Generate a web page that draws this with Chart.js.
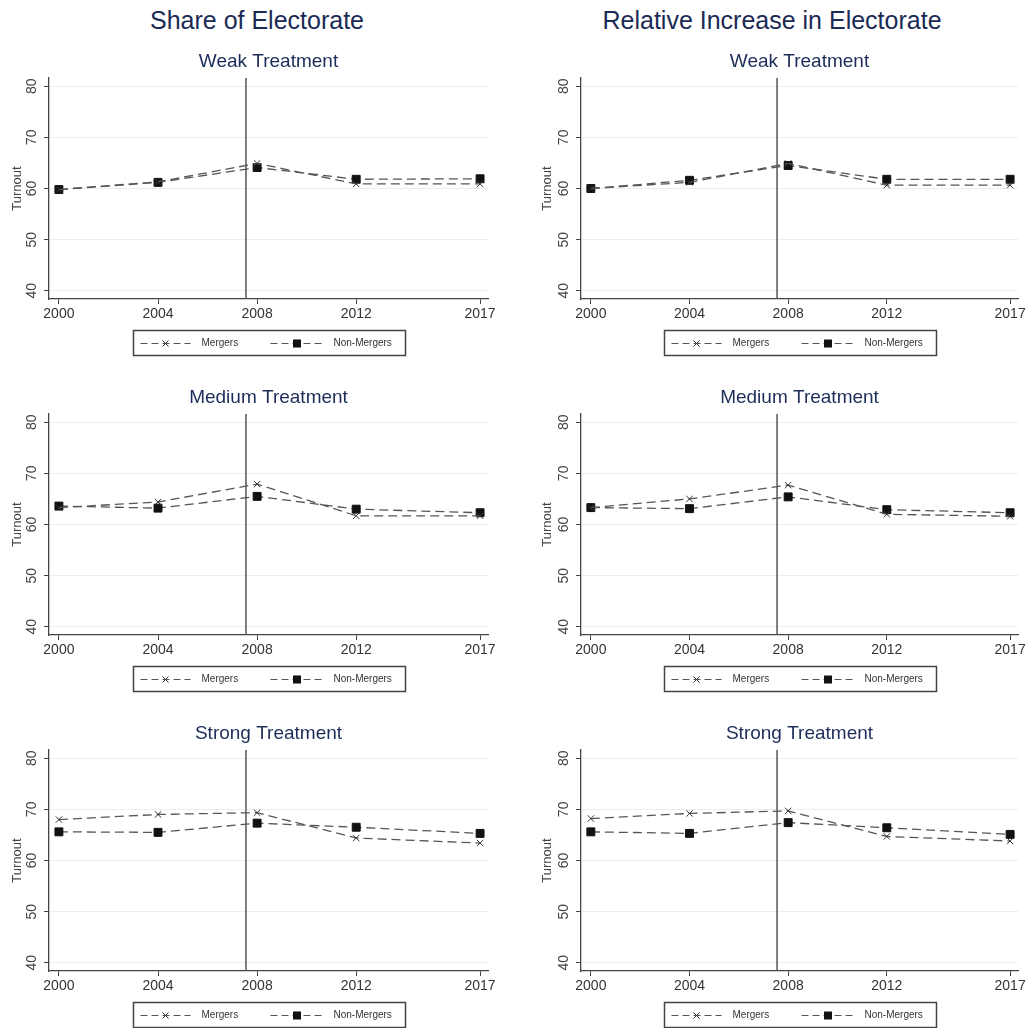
<!DOCTYPE html>
<html>
<head>
<meta charset="utf-8">
<script src="https://cdn.jsdelivr.net/npm/chart.js@4"></script>
<style>
  body { margin: 0; background: #fff; width: 1029px; height: 1028px; overflow: hidden; position: relative;
         font-family: "Liberation Sans", Arial, sans-serif; }
  .hdr { position: absolute; top: 5px; font-size: 25px; line-height: 30px; color: #1b2a55; text-align: center; }
  canvas { position: absolute; }
</style>
</head>
<body>
<div class="hdr" id="h0" style="left:0;width:514px"></div>
<div class="hdr" id="h1" style="left:514px;width:516px"></div>
<script>
const years = [2000, 2004, 2008, 2012, 2017];
const xTicks = [2000, 2004, 2008, 2012, 2017];
const yTicks = [40, 50, 60, 70, 80];
const treatYear = 2007.55;
const seriesNames = ["Mergers", "Non-Mergers"];
const panelTitles = ["Weak Treatment", "Medium Treatment", "Strong Treatment"];
const columnTitles = ["Share of Electorate", "Relative Increase in Electorate"];

// share of electorate
const shareWeakMergers = [59.8, 61.3, 64.9, 60.9, 60.9];
const shareWeakNon = [59.8, 61.2, 64.1, 61.8, 61.9];
const shareMediumMergers = [63.3, 64.4, 67.9, 61.7, 61.7];
const shareMediumNon = [63.6, 63.2, 65.5, 63.0, 62.3];
const shareStrongMergers = [68.0, 69.0, 69.35, 64.4, 63.4];
const shareStrongNon = [65.6, 65.5, 67.3, 66.5, 65.3];

// relative increase in electorate
const relWeakMergers = [60.0, 61.2, 64.9, 60.65, 60.65];
const relWeakNon = [60.0, 61.6, 64.5, 61.8, 61.8];
const relMediumMergers = [63.3, 65.0, 67.7, 62.0, 61.6];
const relMediumNon = [63.3, 63.1, 65.4, 62.9, 62.3];
const relStrongMergers = [68.2, 69.2, 69.7, 64.7, 63.8];
const relStrongNon = [65.6, 65.3, 67.4, 66.4, 65.1];

const yMin = 38.4, yMax = 81.6;

document.getElementById("h0").textContent = columnTitles[0];
document.getElementById("h1").textContent = columnTitles[1];

const panels = [
  { col: 0, row: 0, m: shareWeakMergers, n: shareWeakNon },
  { col: 0, row: 1, m: shareMediumMergers, n: shareMediumNon },
  { col: 0, row: 2, m: shareStrongMergers, n: shareStrongNon },
  { col: 1, row: 0, m: relWeakMergers, n: relWeakNon },
  { col: 1, row: 1, m: relMediumMergers, n: relMediumNon },
  { col: 1, row: 2, m: relStrongMergers, n: relStrongNon },
];

const colLeft = [0, 514];
const colWidth = [514, 515];
const rowTop = [45, 381, 717];
const axisLeft = [49, 67];
const padRight = [26, 11];
const yTitlePad = [10, 26];
const FONT = '"Liberation Sans", Arial, sans-serif';

// panel title, rotated y tick labels and the boxed legend
const decor = {
  id: "decor",
  afterDraw(chart, args, opts) {
    const { ctx, chartArea: a } = chart;
    const y = chart.scales.y;
    ctx.save();
    ctx.textAlign = "center";
    ctx.textBaseline = "middle";
    ctx.fillStyle = "#1c2d5a";
    ctx.font = "19px " + FONT;
    ctx.fillText(opts.title, (a.left + a.right) / 2, a.top - 16);

    ctx.fillStyle = "#444";
    ctx.font = "14px " + FONT;
    yTicks.forEach(v => {
      ctx.save();
      ctx.translate(a.left - 17, y.getPixelForValue(v));
      ctx.rotate(-Math.PI / 2);
      ctx.fillText(String(v), 0, 0);
      ctx.restore();
    });

    const bw = 272, bh = 25;
    const bx = Math.round((a.left + a.right) / 2 - bw / 2) + 0.5;
    const by = Math.round(a.bottom + 31) + 0.5;
    ctx.strokeStyle = "#444";
    ctx.lineWidth = 1.5;
    ctx.strokeRect(bx, by, bw, bh);

    const offs = [[7, 57, 68], [137, 190, 200]];
    const cy = by + 13;
    chart.data.datasets.filter(d => d.inLegend).forEach((d, i) => {
      const [s0, s1, tx] = offs[i];
      ctx.strokeStyle = "#555";
      ctx.lineWidth = 1.2;
      ctx.setLineDash([7, 4]);
      ctx.beginPath();
      ctx.moveTo(bx + s0, cy);
      ctx.lineTo(bx + s1, cy);
      ctx.stroke();
      ctx.setLineDash([]);
      const mx = bx + (s0 + s1) / 2;
      if (d.pointStyle === "rect") {
        ctx.fillStyle = "#111";
        ctx.fillRect(mx - 4, cy - 4, 8, 8);
      } else {
        ctx.strokeStyle = "#333";
        ctx.lineWidth = 1;
        ctx.beginPath();
        ctx.moveTo(mx - 3, cy - 3); ctx.lineTo(mx + 3, cy + 3);
        ctx.moveTo(mx + 3, cy - 3); ctx.lineTo(mx - 3, cy + 3);
        ctx.stroke();
      }
      ctx.fillStyle = "#333";
      ctx.font = "10px " + FONT;
      ctx.textAlign = "left";
      ctx.fillText(d.label, bx + tx, cy);
    });
    ctx.restore();
  }
};

panels.forEach(p => {
  const cv = document.createElement("canvas");
  cv.width = colWidth[p.col];
  cv.height = 312;
  cv.style.left = colLeft[p.col] + "px";
  cv.style.top = rowTop[p.row] + "px";
  document.body.appendChild(cv);

  new Chart(cv.getContext("2d"), {
    type: "line",
    data: {
      datasets: [
        {
          label: seriesNames[0],
          inLegend: true,
          data: years.map((yr, i) => ({ x: yr, y: p.m[i] })),
          borderColor: "#555",
          borderWidth: 1.3,
          borderDash: [9, 5],
          pointStyle: "crossRot",
          pointRadius: 4.5,
          pointBorderColor: "#333",
          pointBorderWidth: 1,
        },
        {
          label: seriesNames[1],
          inLegend: true,
          data: years.map((yr, i) => ({ x: yr, y: p.n[i] })),
          borderColor: "#555",
          borderWidth: 1.3,
          borderDash: [9, 5],
          pointStyle: "rect",
          pointRadius: 5.6,
          pointBackgroundColor: "#111",
          pointBorderColor: "#111",
          pointBorderWidth: 1,
        },
        {
          label: "",
          data: [{ x: treatYear, y: yMin }, { x: treatYear, y: yMax }],
          borderColor: "#555",
          borderWidth: 1.5,
          pointRadius: 0,
        },
      ],
    },
    options: {
      responsive: false,
      animation: false,
      layout: { padding: { left: 0, right: padRight[p.col], top: 33, bottom: 0 } },
      plugins: {
        legend: { display: false },
        tooltip: { enabled: false },
        decor: { title: panelTitles[p.row] },
      },
      scales: {
        x: {
          type: "linear",
          min: 1999.6,
          max: 2017.32,
          afterBuildTicks: s => { s.ticks = xTicks.map(v => ({ value: v })); },
          afterFit: s => { s.height = 58; },
          ticks: {
            callback: v => String(v),
            color: "#333",
            font: { family: FONT, size: 14 },
            padding: 2,
            maxRotation: 0,
          },
          grid: { drawOnChartArea: false, drawTicks: true, tickLength: 5, tickColor: "#444" },
          border: { color: "#444", width: 1.3 },
        },
        y: {
          min: yMin,
          max: yMax,
          afterBuildTicks: s => { s.ticks = yTicks.map(v => ({ value: v })); },
          afterFit: s => { s.width = axisLeft[p.col]; },
          ticks: { display: false },
          grid: { color: "#eaeeee", lineWidth: 1, drawTicks: true, tickLength: 5, tickColor: "#444" },
          border: { color: "#444", width: 1.3 },
          title: {
            display: true,
            text: "Turnout",
            color: "#444",
            font: { family: FONT, size: 13 },
            padding: { top: yTitlePad[p.col], bottom: 0 },
          },
        },
      },
    },
    plugins: [decor],
  });
});
</script>
</body>
</html>
